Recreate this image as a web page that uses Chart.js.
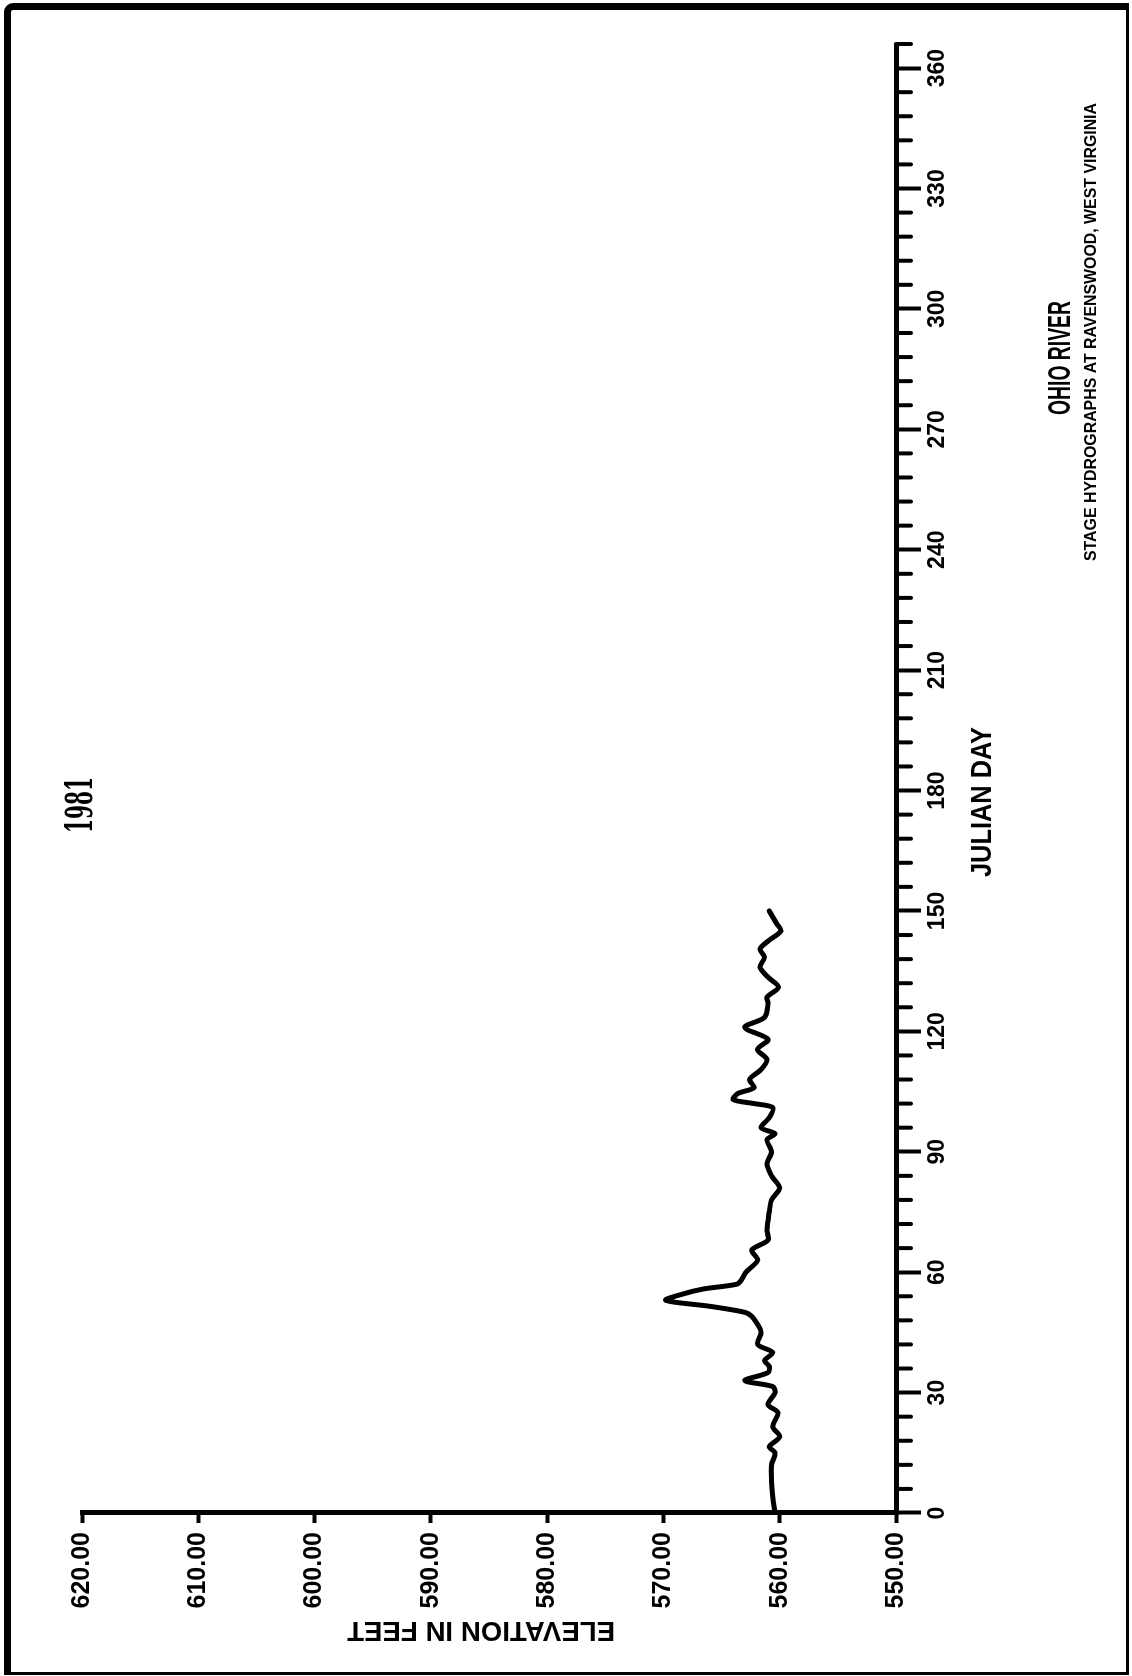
<!DOCTYPE html>
<html>
<head>
<meta charset="utf-8">
<script src="https://cdn.jsdelivr.net/npm/chart.js@4/dist/chart.umd.min.js"></script>
<style>
  html, body { margin: 0; padding: 0; background: #fff; width: 1132px; height: 1676px; overflow: hidden; }
  #frame { position: absolute; left: 4px; top: 3px; width: 1125px; height: 1672px; box-sizing: border-box;
           border-left: 7px solid #000; border-top: 7px solid #000; border-right: 3px solid #000; border-bottom: 3px solid #000;
           border-top-left-radius: 9px; }
  #rot { position: absolute; left: 0; top: 0; width: 1676px; height: 1132px; transform-origin: 0 0;
         transform: translateY(1676px) rotate(-90deg); }
  canvas { display: block; }
</style>
</head>
<body>
<div id="frame"></div>
<div id="rot"><canvas id="c" width="1676" height="1132" style="width:1676px;height:1132px"></canvas></div>
<script>
// ---- text ----
const YEAR_TITLE = "1981";
const MAIN_TITLE = "OHIO RIVER";
const SUB_TITLE = "STAGE HYDROGRAPHS AT RAVENSWOOD, WEST VIRGINIA";
const X_TITLE = "JULIAN DAY";
const Y_TITLE = "ELEVATION IN FEET";

// ---- tick labels ----
const DAY_TICKS = [0, 30, 60, 90, 120, 150, 180, 210, 240, 270, 300, 330, 360];
const ELEV_TICKS = [550, 560, 570, 580, 590, 600, 610, 620];
const ELEV_LABELS = ["550.00", "560.00", "570.00", "580.00", "590.00", "600.00", "610.00", "620.00"];

// ---- series ----
const days = [0, 4, 8, 12, 15, 16.5, 19, 21.5, 25, 27, 30, 31.5, 33, 35, 36.5, 38, 40, 42, 45, 47,
  49, 50, 51.5, 53, 54.5, 55.8, 57, 58, 60, 63, 65.5, 68, 70.5, 75, 78, 81, 84, 87, 90, 93,
  94.5, 96, 98.5, 101, 102, 103, 104.5, 106, 108, 110.5, 113, 115.5, 118, 121, 123.5, 127, 128.5, 131, 133.5, 136,
  138.5, 140.5, 142.5, 145, 147, 148.5, 150];
const elevation = [560.4, 560.6, 560.7, 560.7, 560.4, 560.9, 560.0, 560.6, 560.15, 561.0, 560.4, 560.6, 563.0, 561.0, 560.9, 561.3, 560.6, 561.9, 561.6, 561.9,
  562.4, 563.0, 566.0, 569.8, 568.4, 566.6, 563.7, 563.3, 562.9, 561.9, 562.4, 561.0, 561.1, 560.9, 560.7, 560.0, 560.7, 561.1, 560.7, 561.1,
  560.4, 561.6, 560.9, 560.6, 562.2, 564.0, 563.6, 562.2, 562.6, 561.6, 561.1, 561.9, 561.0, 563.0, 561.3, 561.0, 561.1, 560.1, 561.0, 561.7,
  561.3, 561.7, 561.0, 559.9, 560.3, 560.6, 560.9];

const SANS = "'Liberation Sans', Arial, Helvetica, sans-serif";

const points = days.map((d, i) => ({ x: d, y: elevation[i] }));

const minorDays = [];
for (let d = 6; d <= 366; d += 6) if (d % 30 !== 0) minorDays.push(d);

const minorTicks = {
  id: 'minorTicks',
  afterDraw(chart) {
    const s = chart.scales.x, ctx = chart.ctx;
    ctx.save();
    ctx.strokeStyle = '#000'; ctx.lineWidth = 4; ctx.lineCap = 'round';
    for (const d of minorDays) {
      const px = s.getPixelForValue(d);
      ctx.beginPath(); ctx.moveTo(px, s.top); ctx.lineTo(px, s.top + 15); ctx.stroke();
    }
    ctx.restore();
  }
};

function drawFit(ctx, text, cx, cy, font, capShift, len, rot) {
  ctx.save();
  ctx.font = font;
  const w = ctx.measureText(text).width;
  ctx.translate(cx, cy);
  if (rot) ctx.rotate(rot);
  ctx.scale(len / w, 1);
  ctx.textAlign = 'center';
  ctx.textBaseline = 'alphabetic';
  ctx.fillStyle = '#000';
  ctx.fillText(text, 0, capShift);
  ctx.restore();
}

const texts = {
  id: 'texts',
  afterDraw(chart) {
    const ctx = chart.ctx;
    drawFit(ctx, YEAR_TITLE, 871, 78, "bold 38px 'DejaVu Serif', 'Liberation Serif', serif", 14, 56, 0);
    drawFit(ctx, X_TITLE, 874, 980, "bold 29px " + SANS, 10.5, 150, 0);
    drawFit(ctx, MAIN_TITLE, 1318, 1058, "bold 32px " + SANS, 11.5, 114, 0);
    drawFit(ctx, SUB_TITLE, 1344, 1090, "bold 17px " + SANS, 6, 458, 0);
    drawFit(ctx, Y_TITLE, 44, 481, "bold 28px " + SANS, 10, 268, -Math.PI / 2);
  }
};

new Chart(document.getElementById('c'), {
  type: 'scatter',
  data: {
    datasets: [{
      data: points,
      showLine: true,
      borderColor: '#000',
      borderWidth: 5,
      borderCapStyle: 'round',
      borderJoinStyle: 'round',
      pointRadius: 0,
      tension: 0.3,
      fill: false
    }]
  },
  options: {
    responsive: false,
    devicePixelRatio: 1,
    animation: false,
    layout: { padding: { left: 0, top: 82, right: 44, bottom: 0 } },
    plugins: { legend: { display: false }, tooltip: { enabled: false }, title: { display: false } },
    scales: {
      x: {
        type: 'linear', position: 'bottom', min: 0, max: 366,
        afterFit(s) { s.height = 236; },
        ticks: {
          stepSize: 30, includeBounds: false, autoSkip: false, maxRotation: 0, minRotation: 0,
          padding: 3, color: '#000',
          font: { family: SANS, size: 23, weight: 'bold' },
          callback: (v) => DAY_TICKS.includes(v) ? String(v) : ''
        },
        grid: { display: true, drawOnChartArea: false, drawTicks: true, tickLength: 25, tickWidth: 4, tickColor: '#000' },
        border: { display: true, color: '#000', width: 5 }
      },
      y: {
        type: 'linear', position: 'left', min: 550, max: 620,
        afterFit(s) { s.width = 163; },
        ticks: {
          stepSize: 10, padding: 9, color: '#000',
          font: { family: SANS, size: 25, weight: 'bold' },
          callback: (v) => { const i = ELEV_TICKS.indexOf(v); return i >= 0 ? ELEV_LABELS[i] : ''; }
        },
        grid: { display: true, drawOnChartArea: false, drawTicks: true, tickLength: 10, tickWidth: 4, tickColor: '#000' },
        border: { display: true, color: '#000', width: 5 }
      }
    }
  },
  plugins: [minorTicks, texts]
});
</script>
</body>
</html>
